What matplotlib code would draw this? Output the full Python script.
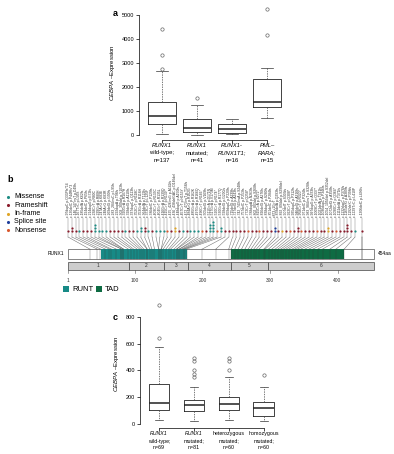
import numpy as np
import matplotlib
matplotlib.use("Agg")
import matplotlib.pyplot as plt
from matplotlib.patches import Rectangle

plt.rcParams['font.family'] = ['Liberation Sans', 'DejaVu Sans']
plt.rcParams['mathtext.fontset'] = 'custom'
plt.rcParams['mathtext.it'] = 'Liberation Sans:italic'
plt.rcParams['mathtext.rm'] = 'Liberation Sans'

# ---- panel a data ----
a_labels = [["RUNX1", "wild-type;", "n=137"], ["RUNX1", "mutated;", "n=41"],
            ["RUNX1-", "RUNX1T1;", "n=16"], ["PML–", "RARA;", "n=15"]]
a_italic = [1, 1, 2, 2]
a_med = [780, 300, 240, 1380]
a_q1 = [460, 140, 100, 1180]
a_q3 = [1370, 680, 470, 2320]
a_lo = [60, 10, 40, 700]
a_hi = [2680, 1270, 660, 2800]
a_out = [[2760, 3320, 4420], [1560], [], [4150, 5250]]

# ---- panel c data ----
c_labels = [["RUNX1", "wild-type;", "n=69"], ["RUNX1", "mutated;", "n=81"],
            ["heterozygous", "mutated;", "n=60"], ["homozygous", "mutated;", "n=60"]]
c_italic = [1, 1, 0, 0]
c_med = [155, 142, 152, 120]
c_q1 = [105, 97, 102, 62]
c_q3 = [300, 180, 200, 165]
c_lo = [33, 22, 30, 22]
c_hi = [575, 275, 355, 275]
c_out = [[645, 890], [350, 372, 400, 470, 490], [400, 470, 490], [365]]

# ---- panel b data: (aa position, label, type, count) ----
mutations = [
    (33, "c.97dupC p.Q33Pfs*14", "F", 1), (44, "c.130delC p.P44Rfs*3", "F", 2),
    (49, "c.146_147insT p.D49fs", "F", 1), (56, "c.167T>C p.L56S", "M", 1),
    (62, "c.185delA p.K62fs", "F", 1), (65, "c.194delC p.P65fs", "F", 1),
    (72, "c.214dupG p.E72fs", "F", 1), (80, "c.238C>T p.R80C", "M", 3),
    (80, "c.239G>A p.R80H", "M", 1), (83, "c.247A>G p.K83E", "M", 1),
    (83, "c.248A>G p.K83R", "M", 1), (90, "c.269delG p.G90fs", "F", 1),
    (95, "c.283_284insC p.L95fs", "F", 1), (98, "c.292dupA p.T98fs", "F", 1),
    (103, "c.308_309del p.Y103fs", "F", 1), (107, "c.320G>A p.R107H", "M", 1),
    (110, "c.328delG p.A110fs", "F", 1), (113, "c.337dupC p.Q113fs", "F", 1),
    (118, "c.352C>T p.R118C", "M", 1), (118, "c.353G>A p.R118H", "M", 2),
    (122, "c.364delA p.T122fs", "F", 2), (125, "c.373C>T p.L125F", "M", 1),
    (129, "c.386delC p.P129fs", "F", 1), (135, "c.403C>T p.R135C", "M", 1),
    (135, "c.404G>T p.R135L", "M", 1), (139, "c.416G>A p.R139Q", "M", 1),
    (139, "c.415C>T p.R139*", "N", 1), (142, "c.425_426insG p.A142fs", "F", 1),
    (146, "c.436_438delGAC p.D146del", "I", 2), (150, "c.448dupG p.A150fs", "F", 1),
    (153, "c.457C>T p.H153Y", "M", 1), (158, "c.472_473insT p.T158fs", "F", 1),
    (162, "c.484A>G p.R162G", "M", 1), (162, "c.485G>A p.R162K", "M", 1),
    (166, "c.497G>A p.R166Q", "M", 1), (166, "c.496C>T p.R166*", "N", 1),
    (169, "c.505delG p.V169fs", "F", 1), (171, "c.511G>A p.D171N", "M", 3),
    (173, "c.517G>A p.V173M", "M", 4), (174, "c.520C>T p.R174*", "N", 1),
    (177, "c.530G>A p.R177Q", "M", 2), (200, "c.598delG p.G200fs", "F", 1),
    (220, "c.659dupC p.P220fs", "F", 1), (239, "c.715delG p.A239fs", "F", 1),
    (243, "c.727delG p.A243fs", "F", 1), (248, "c.742_743insA p.S248fs", "F", 1),
    (253, "c.757delC p.P253fs", "F", 1), (258, "c.772C>T p.Q258*", "N", 1),
    (263, "c.788dupA p.N263fs", "F", 1), (268, "c.802_803del p.S268fs", "F", 1),
    (272, "c.815C>A p.S272*", "N", 1), (276, "c.826delG p.A276fs", "F", 1),
    (280, "c.838dupT p.S280fs", "F", 1), (284, "c.851delC p.P284fs", "F", 1),
    (291, "c.873+1G>T", "S", 2), (293, "c.878delA p.Q293fs", "F", 1),
    (298, "c.892_894del p.S298del", "I", 1), (303, "c.907delT p.S303fs", "F", 1),
    (308, "c.922C>T p.Q308*", "N", 1), (312, "c.935dupC p.P312fs", "F", 1),
    (316, "c.946delG p.A316fs", "F", 2), (320, "c.958C>T p.R320*", "N", 1),
    (324, "c.971delC p.P324fs", "F", 1), (328, "c.983_984insT p.S328fs", "F", 1),
    (333, "c.997dupG p.A333fs", "F", 1), (337, "c.1009C>T p.Q337*", "N", 1),
    (341, "c.1021delA p.T341fs", "F", 1), (346, "c.1036dupC p.P346fs", "F", 1),
    (352, "c.1054_1056del p.S352del", "I", 2), (358, "c.1072delG p.A358fs", "F", 1),
    (364, "c.1090C>T p.Q364*", "N", 1), (371, "c.1111delA p.T371fs", "F", 1),
    (378, "c.1132dupC p.P378fs", "F", 1), (389, "c.1165delG p.A389fs", "F", 3),
    (398, "c.1192delC p.P398fs", "F", 1), (410, "c.1229T>C p.L410P", "M", 1),
    (436, "c.1306delC p.L436fs", "F", 1),
]
mut_types = ["Missense", "Frameshift", "In-frame", "Splice site", "Nonsense"]
type_keys = ["M", "F", "I", "S", "N"]
type_colors = ["#1f8c84", "#8a1c2c", "#e0a526", "#1f3f9c", "#d9582e"]
domains = [("RUNT", 50, 177, "#178a86"), ("TAD", 243, 410, "#0e6b43")]
exons = [1, 91, 143, 178, 242, 297, 454]
protein_len = 454
aa_ticks = [1, 100, 200, 300, 400]

W, H = 394, 454
fig = plt.figure(figsize=(W / 100, H / 100), dpi=100)


def frac(x0, y0, x1, y1):
    return [x0 / W, 1 - y1 / H, (x1 - x0) / W, (y1 - y0) / H]


def boxpanel(ax, med, q1, q3, lo, hi, out, labels, italic, width, offs, fs):
    stats = [dict(med=m, q1=a, q3=b, whislo=l, whishi=h, fliers=f)
             for m, a, b, l, h, f in zip(med, q1, q3, lo, hi, out)]
    ax.bxp(stats, positions=range(1, 5), widths=width, capwidths=width * 0.4,
           boxprops=dict(lw=0.6, color='#222'),
           whiskerprops=dict(lw=0.5, color='#444', ls=(0, (2, 1.5))),
           capprops=dict(lw=0.5, color='#333'),
           medianprops=dict(lw=1.1, color='#222'),
           flierprops=dict(marker='o', ms=2.4, mfc='none', mec='#666', mew=0.5))
    for s in ['top', 'right']:
        ax.spines[s].set_visible(False)
    ax.spines['bottom'].set_bounds(1, 4)
    for s in ['left', 'bottom']:
        ax.spines[s].set_linewidth(0.5)
    ax.set_xticks(range(1, 5))
    ax.set_xticklabels([])
    ax.tick_params(length=2, width=0.5, labelsize=4, pad=1.5)
    for i, lines in enumerate(labels):
        for j, t in enumerate(lines):
            ax.annotate(t, xy=(i + 1, 0), xycoords=('data', 'axes fraction'),
                        xytext=(0, -offs[j]), textcoords='offset points',
                        ha='center', va='center', fontsize=fs,
                        style='italic' if j < italic[i] else 'normal')
    ax.set_ylabel(r'$\mathit{CEBPA}$ –Expression', fontsize=4.3, labelpad=3)


# panel a
ax_a = fig.add_axes(frac(139, 5.4, 285, 139.8))
boxpanel(ax_a, a_med, a_q1, a_q3, a_lo, a_hi, a_out, a_labels, a_italic, 0.8,
         [4.1, 9.5, 14.9], 4.2)
ax_a.set_xlim(0.343, 4.514)
ax_a.set_ylim(-200, 5400)
ax_a.set_yticks(range(0, 5001, 1000))
ax_a.spines['left'].set_bounds(0, 5000)

# panel c
ax_c = fig.add_axes(frac(140, 299.6, 281, 428))
boxpanel(ax_c, c_med, c_q1, c_q3, c_lo, c_hi, c_out, c_labels, c_italic, 0.58,
         [4.3, 9.4, 14.0], 3.8)
ax_c.set_xlim(0.452, 4.5)
ax_c.set_ylim(-30, 930)
ax_c.set_yticks(range(0, 801, 200))
ax_c.spines['left'].set_bounds(0, 800)

# panel b
PX0, PXW = 68, 306 / 453


def aa(px):
    return 1 + (px - PX0) / PXW


ax_b = fig.add_axes(frac(0, 172, 394, 296))
ax_b.set_xlim(aa(0), aa(394))
ax_b.set_ylim(296, 172)
ax_b.axis('off')

ax_b.add_patch(Rectangle((1, 249), protein_len - 1, 10, fc='white', ec='#555', lw=0.5))
for name, s, e, col in domains:
    ax_b.add_patch(Rectangle((s, 249), e - s, 10, fc=col, ec='none'))
for k in range(len(exons) - 1):
    ax_b.add_patch(Rectangle((exons[k], 262), exons[k + 1] - exons[k], 8,
                             fc='#cdcdcd', ec='#444', lw=0.5))
    ax_b.text((exons[k] + exons[k + 1]) / 2, 266, str(k + 1), fontsize=3.5,
              ha='center', va='center', color='#333')
for t in aa_ticks:
    ax_b.plot([t, t], [270, 273], color='#555', lw=0.4)
    ax_b.text(t, 281, str(t), fontsize=3.5, ha='center', va='center', color='#333')
ax_b.text(aa(64), 254, "RUNX1", fontsize=3.5, ha='right', va='center')
ax_b.text(aa(378), 254, f"{protein_len}aa", fontsize=3.5, ha='left', va='center')

n_main = len(mutations) - 1
xs = list(np.linspace(aa(68), aa(355), n_main)) + [mutations[-1][0]]
for (pos, lab, typ, cnt), x in zip(mutations, xs):
    col = type_colors[type_keys.index(typ)]
    ax_b.plot([x, x], [218, 237], color='#888', lw=0.35, zorder=1)
    ax_b.plot([x, pos], [237, 249], color='#666', lw=0.35, zorder=1)
    ax_b.plot([pos, pos], [249, 259], color='#333', lw=0.35, alpha=0.6, zorder=3)
    ax_b.scatter([x] * cnt, 231 - 3 * np.arange(cnt), s=2.5, color=col,
                 lw=0, zorder=4)
    ax_b.text(x, 217, lab, rotation=90, fontsize=2.4, ha='center', va='bottom',
              color='#333')
ax_b.plot([xs[-1], xs[-1]], [237, 259], color='#666', lw=0.35, zorder=1)

for k, (name, col) in enumerate(zip(mut_types, type_colors)):
    y = 197 + 8.3 * k
    ax_b.scatter([aa(8)], [y], s=5, color=col, lw=0)
    ax_b.text(aa(14), y, name, fontsize=5, va='center', ha='left')

lx = [63, 96]
for (name, s, e, col), x0 in zip(domains, lx):
    ax_b.add_patch(Rectangle((aa(x0), 286), 6 / PXW, 6, fc=col, ec='none'))
    ax_b.text(aa(x0 + 9), 289.5, name, fontsize=5.5, va='center', ha='left')

fig.text(113 / W, 1 - 13 / H, 'a', fontsize=6.5, weight='bold', va='center')
fig.text(7 / W, 1 - 180 / H, 'b', fontsize=6.5, weight='bold', va='center')
fig.text(113 / W, 1 - 317 / H, 'c', fontsize=6.5, weight='bold', va='center')

fig.savefig('out.png', dpi=100)
